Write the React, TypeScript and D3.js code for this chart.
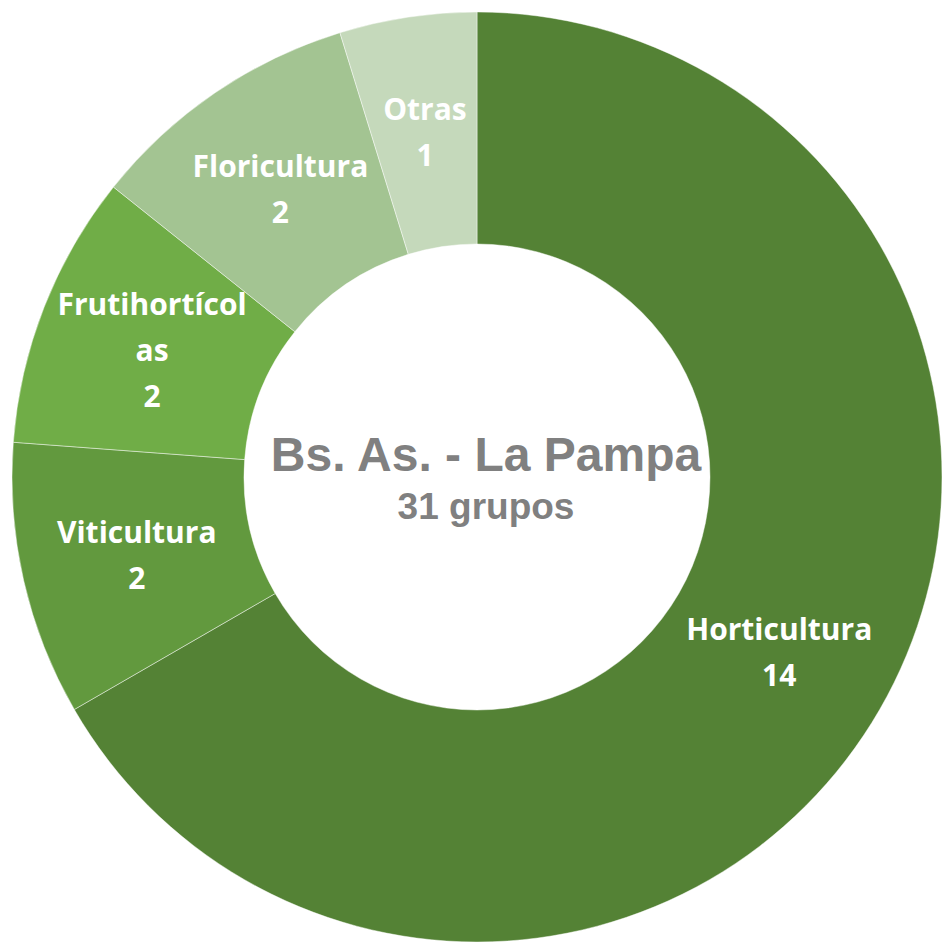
import React, { useEffect, useRef } from 'react';
import * as d3 from 'd3';

interface Slice {
  name: string;
  value: number;
}

const categories = ['Horticultura', 'Viticultura', 'Frutihortícolas', 'Floricultura', 'Otras'];
const values = [14, 2, 2, 2, 1];
// how the category names wrap inside their slices
const labelLines = [['Horticultura'], ['Viticultura'], ['Frutihortícol', 'as'], ['Floricultura'], ['Otras']];
const colors = ['#548235', '#62993e', '#70ad47', '#a3c492', '#c5d9bb'];
const centerTitle = 'Bs. As. - La Pampa';
const centerSub = '31 grupos';

const App: React.FC = () => {
  const svgRef = useRef<SVGSVGElement>(null);

  useEffect(() => {
    if (!svgRef.current) return;

    const width = 943;
    const height = 942;
    const cx = 477;
    const cy = 477;
    const outer = 465;
    const inner = 233;

    const data: Slice[] = categories.map((c, i) => ({ name: c, value: values[i] }));

    const svg = d3.select(svgRef.current)
      .attr('width', width)
      .attr('height', height);
    svg.selectAll('*').remove();

    const g = svg.append('g').attr('transform', `translate(${cx},${cy})`);

    const pie = d3.pie<Slice>().sort(null).value(d => d.value);
    const arc = d3.arc<d3.PieArcDatum<Slice>>().innerRadius(inner).outerRadius(outer);
    const arcs = pie(data);

    g.selectAll('.slice')
      .data(arcs)
      .enter()
      .append('path')
      .attr('class', 'slice')
      .attr('d', arc)
      .attr('fill', (d, i) => colors[i])
      .attr('stroke', '#ffffff')
      .attr('stroke-opacity', 0.6)
      .attr('stroke-width', 0.75);

    // Slice labels
    const lineH = 46;
    const labels = g.selectAll('.label')
      .data(arcs)
      .enter()
      .append('text')
      .attr('class', 'label')
      .attr('text-anchor', 'middle')
      .attr('font-family', '"Open Sans", Lato, sans-serif')
      .attr('font-weight', 'bold')
      .attr('font-size', 30)
      .attr('fill', '#ffffff');

    labels.each(function (d, i) {
      const [x, y] = arc.centroid(d);
      const lines = [...labelLines[i], String(d.data.value)];
      const top = y - ((lines.length - 1) * lineH) / 2 + 11;
      lines.forEach((ln, k) => {
        d3.select(this).append('tspan')
          .attr('x', x)
          .attr('y', top + k * lineH)
          .text(ln);
      });
    });

    // Center text (the text box sits slightly right of the hole's centre)
    g.append('text')
      .attr('text-anchor', 'middle')
      .attr('x', 9)
      .attr('y', -6)
      .attr('font-family', '"Liberation Sans", Arial, sans-serif')
      .attr('font-weight', 'bold')
      .attr('font-size', 48)
      .attr('fill', '#808080')
      .text(centerTitle);

    g.append('text')
      .attr('text-anchor', 'middle')
      .attr('x', 9)
      .attr('y', 42)
      .attr('font-family', '"Liberation Sans", Arial, sans-serif')
      .attr('font-weight', 'bold')
      .attr('font-size', 37)
      .attr('fill', '#808080')
      .text(centerSub);
  }, []);

  return (
    <svg ref={svgRef} style={{ position: 'absolute', left: 0, top: 0, background: '#ffffff' }}></svg>
  );
};

export default App;
